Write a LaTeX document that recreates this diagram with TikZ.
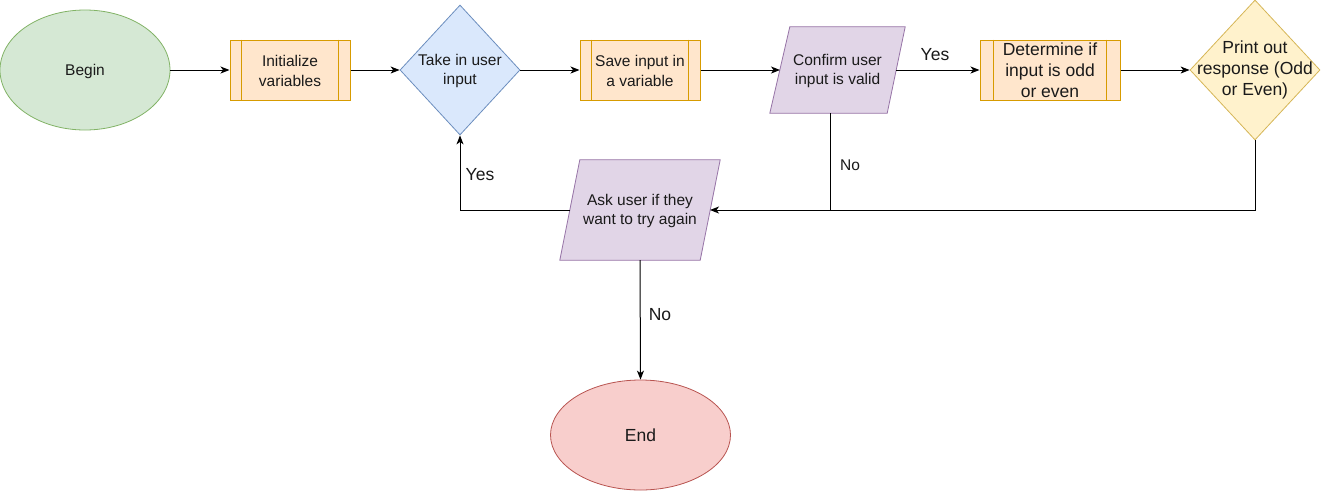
\documentclass[tikz,border=0pt]{standalone}
\usepackage{fontspec}
\setmainfont{Liberation Sans}
\usetikzlibrary{shapes.geometric,arrows.meta,backgrounds,calc}
\definecolor{gfill}{HTML}{D5E8D4}\definecolor{gline}{HTML}{82B366}
\definecolor{ofill}{HTML}{FFE6CC}\definecolor{oline}{HTML}{D79B00}
\definecolor{bfill}{HTML}{DAE8FC}\definecolor{bline}{HTML}{6C8EBF}
\definecolor{pfill}{HTML}{E1D5E7}\definecolor{pline}{HTML}{9673A6}
\definecolor{yfill}{HTML}{FFF2CC}\definecolor{yline}{HTML}{D6B656}
\definecolor{rfill}{HTML}{F8CECC}\definecolor{rline}{HTML}{B85450}
\definecolor{txt}{HTML}{1A1A1A}
\begin{document}
\begin{tikzpicture}[x=1pt,y=-1pt,
  every node/.style={text=txt},
  small/.style={font=\fontsize{15.5}{19.5}\selectfont},
  large/.style={font=\fontsize{17.5}{21}\selectfont},
  ell/.style={ellipse, inner sep=0pt, line width=0.8pt},
  proc/.style={rectangle, draw=oline, fill=ofill, line width=1pt, minimum height=60pt, inner sep=0pt, align=center},
  dia/.style={diamond, inner sep=0pt, line width=0.8pt},
  box/.style={rectangle, inner sep=0pt, align=center},
  para/.style={draw=pline, fill=pfill, line width=0.8pt},
  arr/.style={line width=1pt, -{Stealth[length=9pt,width=7pt,inset=2.5pt]}},
  ln/.style={line width=1pt},
  lbl/.style={inner sep=0pt}]
\begin{scope}[on background layer]
\fill[white] (0,0) rectangle (1321,491);
\end{scope}
\useasboundingbox (0,0) rectangle (1321,491);

% Begin
\node[ell, draw=gline, fill=gfill, minimum width=170pt, minimum height=120pt] (begin) at (85,70) {};
\node[box, small] (begint) at ($(begin.center)+(0,1.5)$) {Begin};
% Initialize
\node[proc, minimum width=120pt] (init) at (290,70) {};
\node[box, small] (initt) at ($(init.center)+(0,1)$) {Initialize\\variables};
\draw[oline, line width=1pt] ($(init.north west)+(12,0)$) -- ($(init.south west)+(12,0)$)
  ($(init.north east)+(-12,0)$) -- ($(init.south east)+(-12,0)$);
% Take in user input
\node[dia, draw=bline, fill=bfill, minimum width=120pt, minimum height=130pt] (take) at (460,70) {};
\node[box, small] (taket) at ($(take.center)+(0,1)$) {Take in user\\input};
% Save input
\node[proc, minimum width=120pt] (save) at (640,70) {};
\node[box, small] (savet) at ($(save.center)+(0,1)$) {Save input in\\a variable};
\draw[oline, line width=1pt] ($(save.north west)+(12,0)$) -- ($(save.south west)+(12,0)$)
  ($(save.north east)+(-12,0)$) -- ($(save.south east)+(-12,0)$);
% Confirm
\node[box, minimum width=135pt, minimum height=86pt] (conf) at (837.5,70) {};
\begin{scope}[on background layer]
\draw[para] ($(conf.north west)+(20,0)$) -- (conf.north east) -- ($(conf.south east)+(-18,0)$) -- (conf.south west) -- cycle;
\end{scope}
\node[box, small] (conft) at ($(conf.center)+(0,1)$) {Confirm user\\input is valid};
\coordinate (confl) at (780,70);
\coordinate (confr) at (896,70);
\coordinate (confb) at (830,113);
% Determine
\node[proc, minimum width=140pt, large] (det) at (1050,70) {Determine if\\input is odd\\or even};
\draw[oline, line width=1pt] ($(det.north west)+(14,0)$) -- ($(det.south west)+(14,0)$)
  ($(det.north east)+(-14,0)$) -- ($(det.south east)+(-14,0)$);
% Print
\node[dia, draw=yline, fill=yfill, minimum width=130pt, minimum height=140pt] (print) at (1255,70) {};
\node[box, large] (printt) at (print.center) {Print out\\response (Odd\\or Even)};
% Ask
\node[box, minimum width=160pt, minimum height=100pt] (ask) at (640,210) {};
\begin{scope}[on background layer]
\draw[para] ($(ask.north west)+(20,0)$) -- (ask.north east) -- ($(ask.south east)+(-20,0)$) -- (ask.south west) -- cycle;
\end{scope}
\node[box, small] (askt) at ($(ask.center)+(0,1)$) {Ask user if they\\want to try again};
\coordinate (askl) at (570,210);
\coordinate (askr) at (710,210);
% End
\node[ell, draw=rline, fill=rfill, minimum width=180pt, minimum height=110pt, large] (end) at (640.5,435) {End};

% connectors
\draw[arr] (begin.east) -- (init.west);
\draw[arr] (init.east) -- (take.west);
\draw[arr] (take.east) -- (save.west);
\draw[arr] (save.east) -- (confl);
\draw[arr] (confr) -- (det.west);
\draw[arr] (det.east) -- (print.west);
\draw[arr] (print.south) |- (askr);
\draw[ln] (confb) -- (confb |- askr);
\draw[arr] (askl) -| (take.south);
\draw[arr] (ask.south) -- (end.north);

% labels
\node[lbl, large] (yes1) at (935,55) {Yes};
\node[lbl, small] (no1) at (850,165) {No};
\node[lbl, large] (yes2) at (480,175) {Yes};
\node[lbl, large] (no2) at (660,315) {No};
\end{tikzpicture}
\end{document}
